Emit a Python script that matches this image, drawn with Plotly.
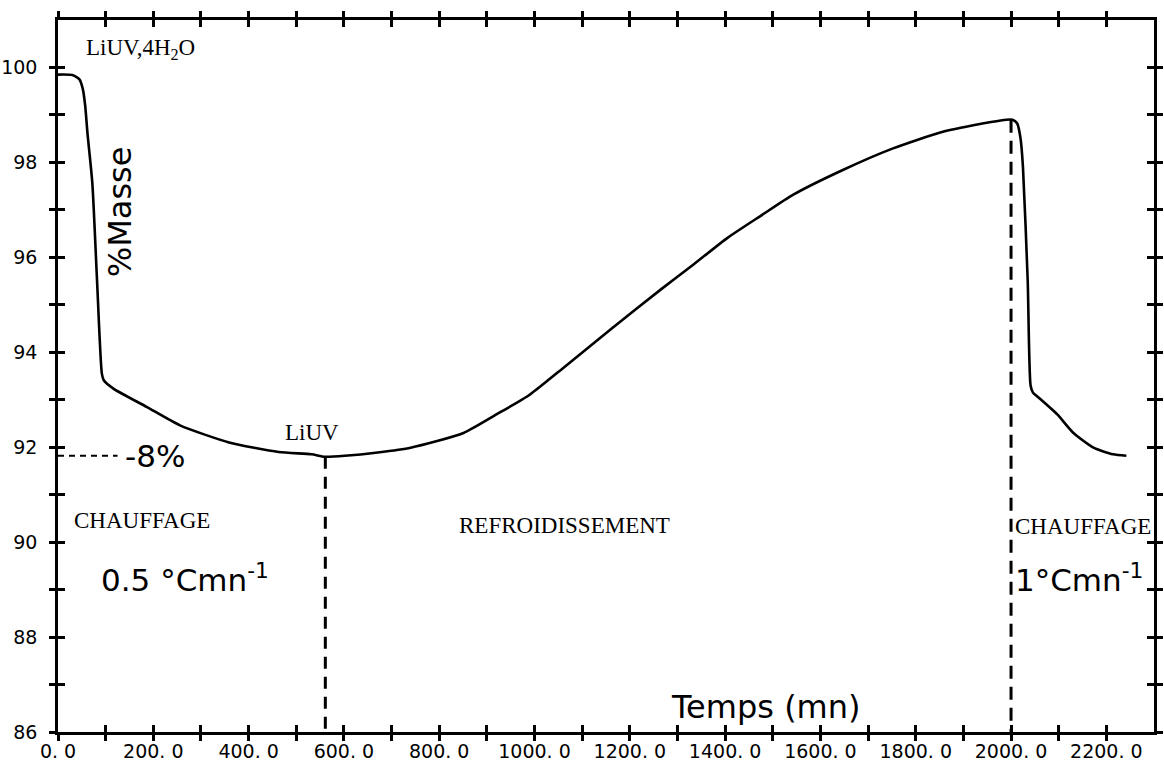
import plotly.graph_objects as go

# ---- data ----
time_mn = [0, 30, 45, 52, 57, 62, 72, 82, 92, 96, 117, 186, 256, 359, 463, 532, 560,
           602, 671, 740, 851, 920, 989, 1059, 1162, 1266, 1335, 1405, 1474, 1543, 1647,
           1751, 1855, 1958, 1990, 2003, 2013, 2020, 2025, 2035, 2041, 2046, 2055, 2097,
           2131, 2173, 2214, 2242]
mass_pct = [99.85, 99.84, 99.75, 99.55, 99.2, 98.6, 97.57, 95.5, 93.55, 93.41, 93.23,
            92.85, 92.46, 92.10, 91.90, 91.85, 91.80, 91.82, 91.89, 91.99, 92.30, 92.69,
            93.10, 93.66, 94.50, 95.33, 95.86, 96.41, 96.87, 97.32, 97.84, 98.29, 98.64,
            98.85, 98.90, 98.90, 98.82, 98.5, 97.9, 95.5, 93.3, 93.15, 93.07, 92.69, 92.30,
            91.99, 91.85, 91.82]

liuv_x = [561, 561]
liuv_y = [91.80, 86]
heat2_x = [2000, 2000]
heat2_y = [98.90, 86]
loss_x = [0, 125]
loss_y = [91.82, 91.82]

x_tick_vals = list(range(0, 2201, 100))
x_tick_text = [("%d. 0" % v if v % 200 == 0 else "") for v in x_tick_vals]
y_tick_vals = list(range(86, 101))
y_tick_text = [(str(v) if v % 2 == 0 else "") for v in y_tick_vals]

X_RANGE = [0, 2300]
Y_RANGE = [86, 101]

fig = go.Figure()
fig.add_trace(go.Scatter(x=time_mn, y=mass_pct, mode="lines",
                         line=dict(color="black", width=2.6, shape="spline", smoothing=0.6),
                         showlegend=False, hoverinfo="skip"))
fig.add_trace(go.Scatter(x=liuv_x, y=liuv_y, mode="lines",
                         line=dict(color="black", width=3, dash="12px,8px"), showlegend=False, hoverinfo="skip"))
fig.add_trace(go.Scatter(x=heat2_x, y=heat2_y, mode="lines",
                         line=dict(color="black", width=3, dash="13px,8px"), showlegend=False, hoverinfo="skip"))
fig.add_trace(go.Scatter(x=loss_x, y=loss_y, mode="lines",
                         line=dict(color="black", width=2, dash="6px,5px"), showlegend=False, hoverinfo="skip"))
# helper trace so the overlay axes (outer tick halves) are drawn
fig.add_trace(go.Scatter(x=X_RANGE, y=Y_RANGE, xaxis="x2", yaxis="y2", mode="lines",
                         line=dict(width=0), opacity=0, showlegend=False, hoverinfo="skip"))

tick_font = dict(family="DejaVu Sans", size=19, color="black")
common = dict(showgrid=False, zeroline=False, showline=True, linecolor="black", linewidth=2.5,
              tickcolor="black", tickwidth=2.5, mirror="ticks")

fig.update_layout(
    width=1164, height=763,
    margin=dict(l=57, r=1, t=20, b=26),
    paper_bgcolor="white", plot_bgcolor="white",
    xaxis=dict(range=X_RANGE, tickmode="array", tickvals=x_tick_vals, ticktext=x_tick_text,
               ticks="inside", ticklen=7, tickfont=tick_font, ticklabelstandoff=0, **common),
    yaxis=dict(range=Y_RANGE, tickmode="array", tickvals=y_tick_vals, ticktext=y_tick_text,
               ticks="inside", ticklen=7, tickfont=tick_font, ticklabelstandoff=14, **common),
    xaxis2=dict(range=X_RANGE, overlaying="x", side="bottom", tickmode="array", tickvals=x_tick_vals,
                ticks="outside", ticklen=6, showticklabels=False, **common),
    yaxis2=dict(range=Y_RANGE, overlaying="y", side="left", tickmode="array", tickvals=y_tick_vals,
                ticks="outside", ticklen=6, showticklabels=False, **common),
)

serif = dict(family="Liberation Serif", size=23, color="black")
sans_big = dict(family="DejaVu Sans", size=31, color="black")

annots = [
    dict(x=54, y=100.39, text="LiUV,4H<sub>2</sub>O", xanchor="left", yanchor="middle", font=serif),
    dict(x=129, y=96.96, text="%Masse", textangle=-90, xanchor="center", yanchor="middle",
         font=dict(family="DejaVu Sans", size=32, color="black")),
    dict(x=534, y=92.3, text="LiUV", xanchor="center", yanchor="middle", font=serif),
    dict(x=137, y=91.82, text="-8%", xanchor="left", yanchor="middle", font=sans_big),
    dict(x=176, y=90.45, text="CHAUFFAGE", xanchor="center", yanchor="middle", font=serif),
    dict(x=1063, y=90.36, text="REFROIDISSEMENT", xanchor="center", yanchor="middle", font=serif),
    dict(x=2004, y=90.32, text="CHAUFFAGE", xanchor="left", yanchor="middle", font=serif),
    dict(x=85, y=89.25, text="0.5 °Cmn<sup>-1</sup>", xanchor="left", yanchor="middle", font=sans_big),
    dict(x=2004, y=89.25, text="1°Cmn<sup>-1</sup>", xanchor="left", yanchor="middle", font=sans_big),
    dict(x=1485, y=86.52, text="Temps (mn)", xanchor="center", yanchor="middle",
         font=dict(family="DejaVu Sans", size=32, color="black")),
]
for a in annots:
    fig.add_annotation(xref="x", yref="y", showarrow=False, **a)

fig.write_html("out.html")
